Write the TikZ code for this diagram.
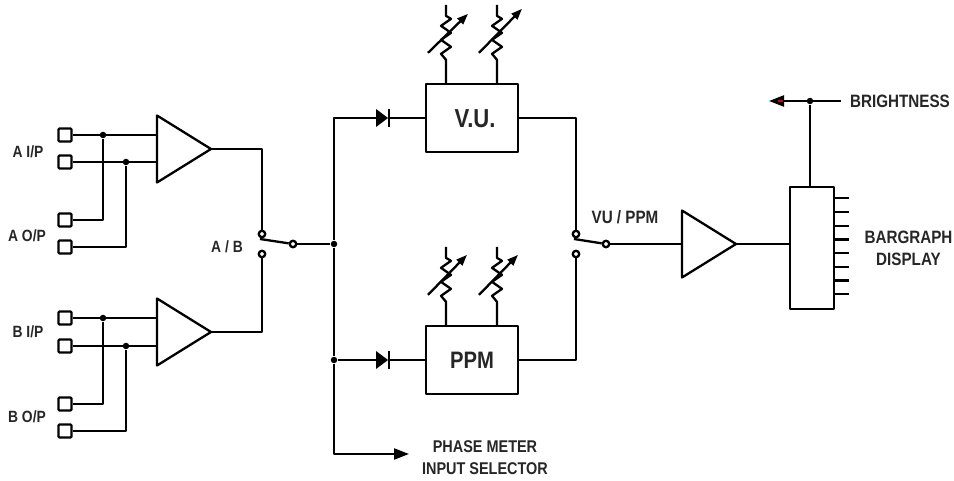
\documentclass[tikz,border=0pt]{standalone}
\usepackage{fontspec}
\setmainfont[FakeStretch=0.85]{Liberation Sans}
\usepackage{tikz}
\usetikzlibrary{positioning}
\usetikzlibrary{shapes.geometric}
\usetikzlibrary{arrows.meta}

\begin{document}
\begin{tikzpicture}
[
x=1pt, y=-1pt,
line width=2.3pt, line join=round,
on grid,
port/.style={rectangle, draw, rounded corners=1pt, inner sep=0pt, minimum size=13pt},
amp/.style={isosceles triangle, draw, isosceles triangle stretches, inner sep=0pt, outer sep=0pt, minimum width=67pt, minimum height=54pt, anchor=apex},
box/.style={rectangle, draw, inner sep=0pt},
contact/.style={circle, draw, fill=white, inner sep=0pt, minimum size=6.5pt},
dot-a/.style={circle, fill, inner sep=0pt, minimum size=6.5pt},
diode/.style={isosceles triangle, fill, isosceles triangle stretches, inner sep=0pt, outer sep=0pt, minimum width=18pt, minimum height=12pt, anchor=apex},
text-a/.style={text=black!85, font=\bfseries\fontsize{16.3}{21.5}\selectfont, align=center},
text-b/.style={text=black!85, font=\bfseries\fontsize{17.9}{22}\selectfont, align=center},
text-c/.style={text=black!85, font=\bfseries\fontsize{23.8}{24}\selectfont},
tip-a/.style={-{Triangle[length=15pt, width=11pt]}},
pics/var-res/.style 2 args={code={
  \draw (0,0) -- (0,-23) -- (-5,-29) -- (5,-36) -- (-5,-43) -- (5,-50) -- (-5,-57) -- (5,-64) -- (0,-67) -- (0,-78);
  \draw [-{Triangle[length=11pt, width=8pt]}] (-18,-30) -- (#1,#2);
}}
]
\useasboundingbox (0,0) rectangle (954,481);

% channel A and B inputs
\node (in-a-1) [port]                    at (65,135) {};
\node (in-a-2) [port, below = 27pt of in-a-1] {};
\node (in-a-3) [port, below = 58pt of in-a-2] {};
\node (in-a-4) [port, below = 27pt of in-a-3] {};
\node (in-b-1) [port, below = 71pt of in-a-4] {};
\node (in-b-2) [port, below = 28pt of in-b-1] {};
\node (in-b-3) [port, below = 58pt of in-b-2] {};
\node (in-b-4) [port, below = 27pt of in-b-3] {};
\node (amp-a)  [amp] at (211,149) {};
\node (amp-b)  [amp] at (211,332) {};
\node (dot-a1) [dot-a] at (103,135) {};
\node (dot-a2) [dot-a] at (126,162) {};
\node (dot-b1) [dot-a] at (103,318) {};
\node (dot-b2) [dot-a] at (126,346) {};
\coordinate (gap-a1) at ([yshift=3.5pt]dot-a1 |- in-a-2);
\coordinate (gap-a2) at ([yshift=-3.5pt]dot-a1 |- in-a-2);
\coordinate (gap-b1) at ([yshift=3.5pt]dot-b1 |- in-b-2);
\coordinate (gap-b2) at ([yshift=-3.5pt]dot-b1 |- in-b-2);
\node (lb-a-in)  [text-a] at (28,152) {A I/P};
\node (lb-a-out) [text-a] at (27,236) {A O/P};
\node (lb-b-in)  [text-a] at (28,332) {B I/P};
\node (lb-b-out) [text-a] at (27,417) {B O/P};

% A / B switch
\node (sw-a-1) [contact] at (262,234) {};
\node (sw-a-2) [contact, below = 20pt of sw-a-1] {};
\node (sw-a-p) [contact] at (293,244) {};
\coordinate (sw-a-e) at (260,239);
\node (dot-sel) [dot-a] at (334,244) {};
\node (dot-ppm) [dot-a] at (334,360) {};
\node (lb-ab) [text-a] at (227,247) {A / B};

% meters
\node (vu)  [box, minimum width=92pt, minimum height=68pt] at (472,118) {};
\node (ppm) [box, minimum width=92pt, minimum height=68pt] at (472,360) {};
\node (lb-vu)  [text-c, font=\bfseries\fontsize{26}{26}\selectfont] at (475,119) {V.U.};
\node (lb-ppm) [text-c] at (472,360) {PPM};
\node (dio-v) [diode] at (388,118) {};
\node (dio-p) [diode] at (388,360) {};
\draw (dio-v.apex) ++(1,-9) -- ++(0,18);
\draw (dio-p.apex) ++(1,-9) -- ++(0,18);
\pic at ([xshift=-26pt]vu.north)  {var-res={22}{-69}};
\pic at ([xshift=25pt]vu.north)   {var-res={25}{-74}};
\pic at ([xshift=-26pt]ppm.north) {var-res={21}{-70}};
\pic at ([xshift=25pt]ppm.north)  {var-res={21}{-70}};
\coordinate (sel-end) at (409,454);
\node (lb-sel) [text-a, font=\bfseries\fontsize{17}{21.5}\selectfont] at (485,457.5) {PHASE METER\\INPUT SELECTOR};

% VU / PPM switch
\node (sw-b-1) [contact] at (576,234) {};
\node (sw-b-2) [contact, below = 20pt of sw-b-1] {};
\node (sw-b-p) [contact] at (606,244) {};
\coordinate (sw-b-e) at (574,239);
\node (amp-c) [amp] at (736,244) {};
\node (lb-vp) [text-b] at (625,217) {VU / PPM};

% display
\node (disp) [box, minimum width=44pt, minimum height=122pt] at (812,248) {};
\node (dot-br) [dot-a] at (810,101) {};
\coordinate (br-l) at (769,101);
\coordinate (br-r) at (841,101);
\node (lb-br)   [text-b] at (900,101) {BRIGHTNESS};
\node (lb-disp) [text-b] at (908.5,248) {BARGRAPH\\DISPLAY};
\foreach \i in {0,...,7}
  \draw ([yshift=-\i*13.7pt-12.5pt]disp.north east) -- ++(14,0);

% connectors
\draw (in-a-3) -| (gap-a1);
\draw (dot-a1) -- (gap-a2);
\draw (in-b-3) -| (gap-b1);
\draw (dot-b1) -- (gap-b2);
\draw (in-a-1) -- (in-a-1 -| amp-a.lower side);
\draw (in-b-1) -- (in-b-1 -| amp-b.lower side);
\draw (in-a-2) -- (in-a-2 -| amp-a.lower side);
\draw (in-b-2) -- (in-b-2 -| amp-b.lower side);
\draw (in-a-4) -| (dot-a2);
\draw (in-b-4) -| (dot-b2);
\draw (amp-a.apex) -| (sw-a-1);
\draw (amp-b.apex) -| (sw-a-2);
\draw (sw-a-e) -- (sw-a-p);
\draw (sw-a-p) -- (dot-sel);
\draw (dot-sel) |- (dio-v.lower side);
\draw (dot-sel) -- (dot-ppm);
\draw (dot-ppm) -- (dio-p.lower side);
\draw [tip-a] (dot-ppm) |- (sel-end);
\draw (dio-v.apex) -- (vu.west);
\draw (dio-p.apex) -- (ppm.west);
\draw (vu.east) -| (sw-b-1);
\draw (ppm.east) -| (sw-b-2);
\draw (sw-b-e) -- (sw-b-p);
\draw (sw-b-p) -- (amp-c.lower side);
\draw (amp-c.apex) -- (amp-c.apex -| disp.west);
\draw (dot-br) -- (dot-br |- disp.north);
\draw [tip-a] (br-r) -- (br-l);
\node (br-mark) [fill=red!85!black, inner sep=0pt, minimum width=5pt, minimum height=2.5pt] at (780,101) {};
\end{tikzpicture}
\end{document}
